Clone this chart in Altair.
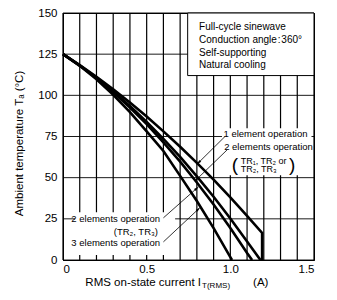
import math
import altair as alt
import pandas as pd

# ---- data ----
series_names = ["1 element operation", "2 elements operation (TR1,TR2 or TR2,TR3)",
                "2 elements operation (TR2,TR3)", "3 elements operation"]
x_1el = [0, 0.1, 0.2, 0.3, 0.4, 0.5, 0.6, 0.7, 0.8, 0.9, 1.0, 1.1, 1.19, 1.19]
y_1el = [125, 118.3, 111.2, 103.6, 95.6, 87.1, 78.1, 68.8, 59.0, 48.8, 38.0, 26.8, 16.4, 0]
x_2el_a = [0, 0.1, 0.2, 0.3, 0.4, 0.5, 0.6, 0.7, 0.8, 0.9, 1.0, 1.1, 1.18]
y_2el_a = [125, 118.2, 110.7, 102.4, 93.6, 83.9, 73.5, 62.6, 50.8, 38.4, 25.2, 11.3, 0]
x_2el_b = [0, 0.1, 0.2, 0.3, 0.4, 0.5, 0.6, 0.7, 0.8, 0.9, 1.0, 1.1, 1.13]
y_2el_b = [125, 118.1, 110.5, 101.9, 92.6, 82.5, 71.4, 59.7, 47.1, 33.7, 19.4, 4.3, 0]
x_3el = [0, 0.1, 0.2, 0.3, 0.4, 0.5, 0.6, 0.7, 0.8, 0.9, 1.0, 1.01]
y_3el = [125, 117.9, 109.8, 100.3, 89.8, 78.1, 66.2, 51.1, 35.8, 19.4, 1.8, 0]

x_ticks = [0, 0.1, 0.2, 0.3, 0.4, 0.5, 0.6, 0.7, 0.8, 0.9, 1.0, 1.1, 1.2, 1.3, 1.4, 1.5]
y_ticks = [0, 25, 50, 75, 100, 125, 150]

box_lines = ["Full-cycle sinewave", "Conduction angle\u200a:\u200a360°", "Self-supporting", "Natural cooling"]

rows = []
for name, xs, ys in zip(series_names, [x_1el, x_2el_a, x_2el_b, x_3el], [y_1el, y_2el_a, y_2el_b, y_3el]):
    for i, (a, b) in enumerate(zip(xs, ys)):
        rows.append({"series": name, "i": i, "x": a, "y": b})
curves = pd.DataFrame(rows)

FONT = "Liberation Sans"
W, H = 251, 247
XD, YD = [0, 1.5], [0, 150]
xs_ = alt.Scale(domain=XD, nice=False, zero=False)
ys_ = alt.Scale(domain=YD, nice=False, zero=False)
PX = W / (XD[1] - XD[0])
PY = H / (YD[1] - YD[0])

label_expr = ("abs(datum.value*10 - round(datum.value*2)*5) < 0.01 ? "
              "(datum.value == 0 ? '0' : format(datum.value, '.1f')) : ''")

x_axis = alt.Axis(values=x_ticks, labelExpr=label_expr, grid=False, tickSize=0,
                  labelPadding=3, labelFontSize=11.5, labelFont=FONT,
                  labelColor="black", domainColor="black", title=None, labelOverlap=False)
y_axis = alt.Axis(values=y_ticks, grid=False, tickSize=0, labelPadding=6,
                  labelFontSize=11.5, labelFont=FONT, labelColor="black",
                  domainColor="black",
                  title="Ambient temperature  Tₐ (°C)", titleFont=FONT,
                  titleFontSize=11.5, titleFontWeight="normal", titleColor="black",
                  titleX=-44, titleY=130, titleBaseline="middle", titleAngle=-90)


def X(f):
    return alt.X(f + ":Q", scale=xs_, axis=x_axis)


def Y(f):
    return alt.Y(f + ":Q", scale=ys_, axis=y_axis)


# grid lines drawn as two-point line paths
vrows, hrows = [], []
for k, v in enumerate(x_ticks):
    vrows += [{"g": "v%d" % k, "i": 0, "x": v, "y": YD[0]}, {"g": "v%d" % k, "i": 1, "x": v, "y": YD[1]}]
for k, v in enumerate(y_ticks):
    hrows += [{"g": "h%d" % k, "i": 0, "x": XD[0], "y": v}, {"g": "h%d" % k, "i": 1, "x": XD[1], "y": v}]
vgrid = alt.Chart(pd.DataFrame(vrows)).mark_line(color="black", strokeWidth=1.2).encode(
    x=X("x"), y=Y("y"), detail="g:N", order="i:Q")
hgrid = alt.Chart(pd.DataFrame(hrows)).mark_line(color="black", strokeWidth=0.9).encode(
    x=X("x"), y=Y("y"), detail="g:N", order="i:Q")

curve_layer = alt.Chart(curves).mark_line(color="black", strokeWidth=2.6, strokeJoin="miter").encode(
    x=X("x"), y=Y("y"), detail="series:N", order="i:Q")

masks = pd.DataFrame({"x": [0.072, 0.95], "x2": [0.67, 1.485], "y": [3, 51.5], "y2": [29, 80]})
mask_layer = alt.Chart(masks).mark_rect(fill="white", strokeWidth=0).encode(
    x=X("x"), x2="x2", y=Y("y"), y2="y2")

box = pd.DataFrame({"x": [0.745], "x2": [1.5], "y": [112], "y2": [150]})
box_layer = alt.Chart(box).mark_rect(fill="white", stroke="black", strokeWidth=1).encode(
    x=X("x"), x2="x2", y=Y("y"), y2="y2")

box_text = pd.DataFrame({"x": [0.813] * 4, "y": [141.6, 133.8, 126.0, 118.2], "t": box_lines})
box_text_layer = alt.Chart(box_text).mark_text(align="left", baseline="middle", font=FONT, fontSize=10,
                                               color="black").encode(x=X("x"), y=Y("y"), text="t:N")

arrows = pd.DataFrame({
    "x": [0.968, 0.982, 0.60, 0.60],
    "y": [75, 67, 25.6, 11],
    "x2": [0.809, 0.799, 0.80, 0.81],
    "y2": [59, 49, 43.6, 31],
})
arrows["ang"] = [math.degrees(math.atan2((b - a) * PX, (d - c) * PY))
                 for a, b, c, d in zip(arrows.x, arrows.x2, arrows.y, arrows.y2)]
arrow_lines = alt.Chart(arrows).mark_rule(color="black", strokeWidth=0.8).encode(
    x=X("x"), y=Y("y"), x2="x2", y2="y2")
heads = pd.DataFrame({"x": arrows.x2, "y": arrows.y2, "ang": arrows.ang})
arrow_heads = alt.Chart(heads).mark_point(shape="M0,-1L0.45,1L-0.45,1Z", filled=True, color="black",
                                          size=30, opacity=1).encode(
    x=X("x"), y=Y("y"), angle=alt.Angle("ang:Q", scale=None))

lab_c = pd.DataFrame({"x": [1.21, 1.228], "y": [76.4, 68.4],
                      "t": ["1 element operation", "2 elements operation"]})
lab_c_layer = alt.Chart(lab_c).mark_text(align="center", baseline="middle", font=FONT, fontSize=9.5,
                                         color="black").encode(x=X("x"), y=Y("y"), text="t:N")
lab_tr = pd.DataFrame({"x": [1.062, 1.062], "y": [60.4, 55.0], "t": ["TR₁, TR₂ or", "TR₂, TR₃"]})
lab_tr_layer = alt.Chart(lab_tr).mark_text(align="left", baseline="middle", font=FONT, fontSize=9,
                                           color="black").encode(x=X("x"), y=Y("y"), text="t:N")
par = pd.DataFrame({"x": [1.028, 1.37], "y": [57.9, 57.9], "t": ["(", ")"]})
par_layer = alt.Chart(par).mark_text(align="center", baseline="middle", font=FONT, fontSize=19,
                                     color="black").encode(x=X("x"), y=Y("y"), text="t:N")
lab_l = pd.DataFrame({"x": [0.58, 0.568, 0.58], "y": [25, 17, 10.4],
                      "t": ["2 elements operation", "(TR₂, TR₃)", "3 elements operation"]})
lab_l_layer = alt.Chart(lab_l).mark_text(align="right", baseline="middle", font=FONT, fontSize=9.5,
                                         color="black").encode(x=X("x"), y=Y("y"), text="t:N")

xt = pd.DataFrame({"x": [0.825], "y": [-14], "t": ["RMS on-state current  I"]})
xt_layer = alt.Chart(xt).mark_text(align="right", baseline="middle", font=FONT, fontSize=11.5,
                                   color="black").encode(x=X("x"), y=Y("y"), text="t:N")
xs2 = pd.DataFrame({"x": [0.831], "y": [-15.5], "t": ["T(RMS)"]})
xs2_layer = alt.Chart(xs2).mark_text(align="left", baseline="middle", font=FONT, fontSize=8,
                                     color="black").encode(x=X("x"), y=Y("y"), text="t:N")
xa = pd.DataFrame({"x": [1.136], "y": [-14], "t": ["(A)"]})
xa_layer = alt.Chart(xa).mark_text(align="left", baseline="middle", font=FONT, fontSize=11.5,
                                   color="black").encode(x=X("x"), y=Y("y"), text="t:N")

chart = alt.layer(
    vgrid, hgrid,
    mask_layer, box_layer, box_text_layer,
    curve_layer,
    arrow_lines, arrow_heads,
    lab_c_layer, lab_tr_layer, par_layer, lab_l_layer,
    xt_layer, xs2_layer, xa_layer,
).properties(
    width=W, height=H,
    padding={"left": 55, "top": 5, "right": 15, "bottom": 40},
    autosize=alt.AutoSizeParams(type="none"),
).configure_view(stroke="black", strokeWidth=1)

chart.save("out.html", embed_options={"renderer": "svg", "actions": False})
